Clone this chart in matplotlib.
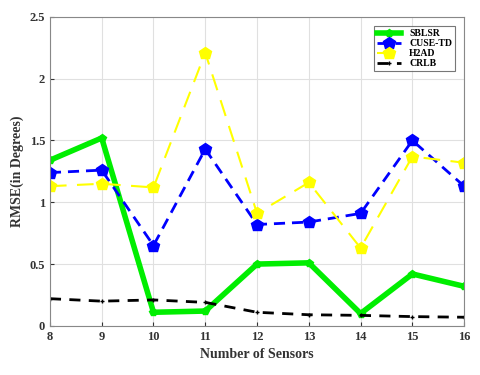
import numpy as np
import matplotlib
matplotlib.use('Agg')
import matplotlib.pyplot as plt

sensors = [8, 9, 10, 11, 12, 13, 14, 15, 16]
sblsr = [1.34, 1.52, 0.11, 0.12, 0.50, 0.51, 0.10, 0.42, 0.32]
cuse_td = [1.24, 1.26, 0.65, 1.43, 0.82, 0.84, 0.91, 1.50, 1.13]
h2ad = [1.13, 1.15, 1.12, 2.21, 0.91, 1.16, 0.63, 1.37, 1.32]
crlb = [0.22, 0.20, 0.21, 0.19, 0.11, 0.09, 0.085, 0.075, 0.07]

plt.rcParams['font.family'] = ['Liberation Serif', 'DejaVu Serif']
plt.rcParams['font.weight'] = 'bold'

fig = plt.figure(figsize=(4.8, 3.75), dpi=100)
ax = fig.add_axes([0.104, 0.131, 0.863, 0.824])

ax.plot(sensors, sblsr, color='#00ee00', lw=4, marker='p', ms=6, label='SBLSR')
ax.plot(sensors, cuse_td, color='#0000ff', lw=2, ls=(0, (4, 2.5)), marker='p', ms=9, label='CUSE-TD')
ax.plot(sensors, h2ad, color='#ffff00', lw=1.5, ls=(0, (8, 5)), marker='p', ms=9, label='H2AD')
ax.plot(sensors, crlb, color='black', lw=2, ls=(0, (4, 3)), marker='+', ms=3, label='CRLB')

ax.set_xlim(8, 16)
ax.set_ylim(0, 2.5)
ax.set_xticks(sensors)
ax.set_yticks([0, 0.5, 1, 1.5, 2, 2.5])
ax.set_yticklabels(['0', '0.5', '1', '1.5', '2', '2.5'])
ax.grid(True, color='#e0e0e0', lw=0.8)
ax.tick_params(labelsize=9, direction='in', length=3, colors='#333333')
for s in ax.spines.values():
    s.set_color('#888888')
ax.set_xlabel('Number of Sensors', fontsize=10, fontweight='bold', color='#333333')
ax.set_ylabel('RMSE(in Degrees)', fontsize=10, fontweight='bold', color='#333333')

leg = ax.legend(loc='upper right', fontsize=7, handlelength=2.5, borderpad=0.3,
                labelspacing=0.1, fancybox=False, edgecolor='#555555',
                bbox_to_anchor=(0.99, 0.985))
leg.get_frame().set_linewidth(0.8)

fig.savefig('out.png', dpi=100)
